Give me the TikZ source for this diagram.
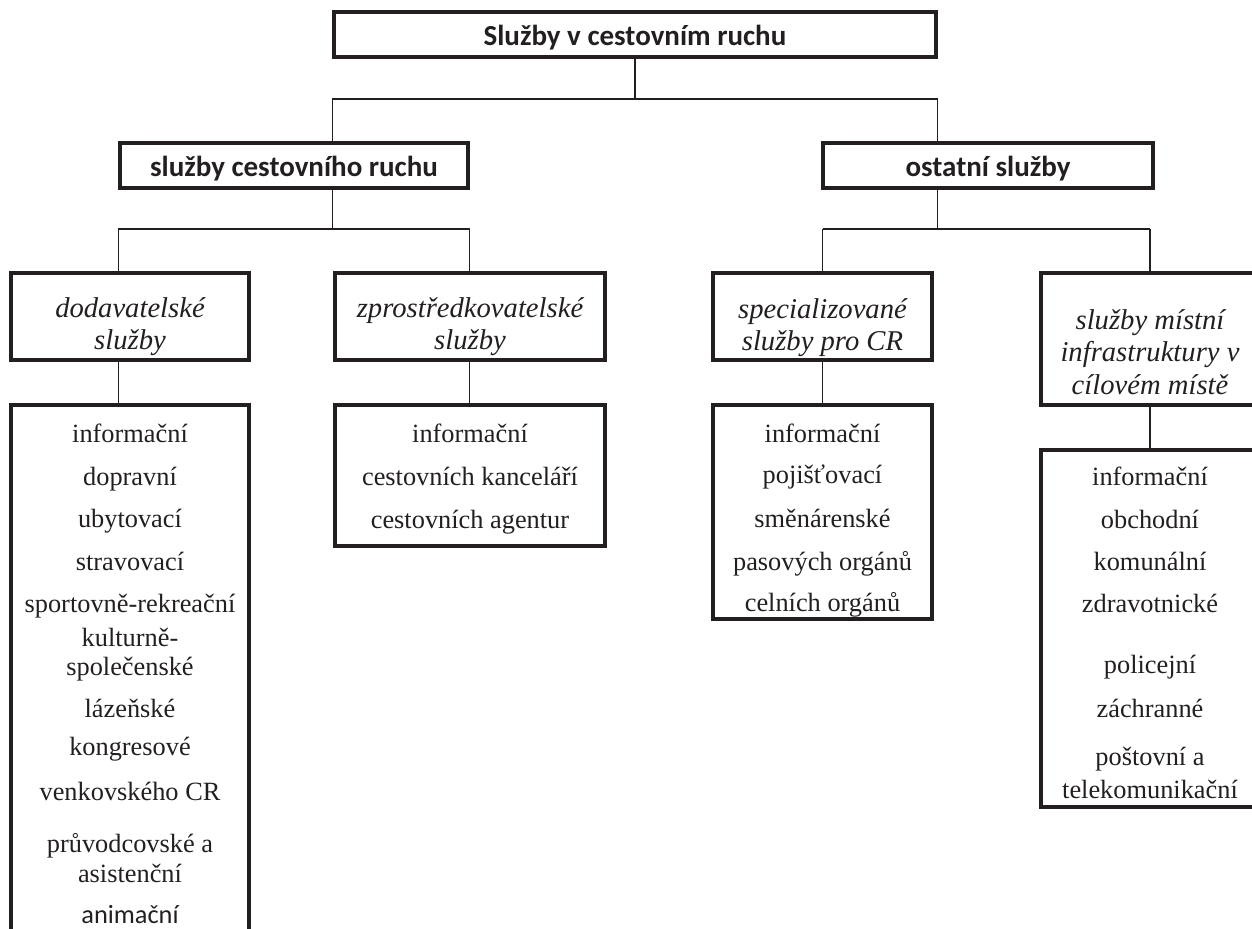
\documentclass[tikz,border=0pt]{standalone}
\usepackage{fontspec}
\setmainfont{Liberation Serif}
\newfontfamily\calibri{Carlito}
\usetikzlibrary{calc}
\definecolor{ink}{RGB}{35,31,32}

\tikzset{
  box/.style={draw=ink, line width=1.8pt, inner sep=0pt},
  conn/.style={draw=ink, line width=1pt},
  fork/.style={draw=ink, line width=1.6pt},
  head/.style={anchor=base, text=ink, font=\calibri\bfseries\fontsize{16.5}{20}\selectfont},
  kind/.style={anchor=base, text=ink, font=\itshape\fontsize{16.3}{18}\selectfont},
  item/.style={anchor=base, text=ink, font=\fontsize{15}{18}\selectfont},
}

\begin{document}
\begin{tikzpicture}[x=0.02cm,y=-0.02cm]
  \useasboundingbox (0,0) rectangle (1252,929);
  % boxes
  \node[box, minimum width=12.04cm, minimum height=0.9cm] (top) at (635,34.5) {};
  \node[box, minimum width=6.96cm, minimum height=0.9cm] (sl) at (294,165.5) {};
  \node[box, minimum width=6.6cm, minimum height=0.9cm] (sr) at (988,165.5) {};
  \node[box, minimum width=4.76cm, minimum height=1.74cm] (d1) at (130,316.5) {};
  \node[box, minimum width=5.4cm, minimum height=1.74cm] (d2) at (470,316.5) {};
  \node[box, minimum width=4.38cm, minimum height=1.74cm] (d3) at (822.5,316.5) {};
  \node[box, minimum width=4.36cm, minimum height=2.64cm] (d4) at (1150,339) {};
  \node[box, minimum width=4.76cm, minimum height=11.1cm] (l1) at (130,682.5) {};
  \node[box, minimum width=5.4cm, minimum height=2.82cm] (l2) at (470,475.5) {};
  \node[box, minimum width=4.38cm, minimum height=4.28cm] (l3) at (822.5,512) {};
  \node[box, minimum width=4.36cm, minimum height=7.14cm] (l4) at (1150,628.5) {};

  % headings
  \node[head] (top-t) at (635,46) {Služby v cestovním ruchu};
  \node[head] (sl-t) at (294,177) {služby cestovního ruchu};
  \node[head] (sr-t) at (988,177) {ostatní služby};

  % kinds of services
  \node[kind] (d1-a) at (130,318) {dodavatelské};
  \node[kind] (d1-b) at (130,350) {služby};
  \node[kind] (d2-a) at (470,318) {zprostředkovatelské};
  \node[kind] (d2-b) at (470,350) {služby};
  \node[kind] (d3-a) at (822.5,319) {specializované};
  \node[kind] (d3-b) at (822.5,351) {služby pro CR};
  \node[kind] (d4-a) at (1150,330) {služby místní};
  \node[kind] (d4-b) at (1150,362) {infrastruktury v};
  \node[kind] (d4-c) at (1150,395) {cílovém místě};

  % lists
  \foreach \y/\t [count=\i] in {442/informační, 485/dopravní, 527/ubytovací,
      570/stravovací, 612/sportovně-rekreační, 646/kulturně-, 675/společenské,
      717/lázeňské, 755/kongresové, 800/venkovského CR, 852/průvodcovské a,
      882/asistenční}
    \node[item] (a\i) at (130,\y) {\t};
  \node[item, font=\calibri\fontsize{15}{18}\selectfont] (a13) at (130,923) {animační};
  \foreach \y/\t [count=\i] in {442/informační, 485/cestovních kanceláří,
      528/cestovních agentur}
    \node[item] (b\i) at (470,\y) {\t};
  \foreach \y/\t [count=\i] in {442/informační, 483/pojišťovací, 527/směnárenské,
      570/pasových orgánů, 611/celních orgánů}
    \node[item] (c\i) at (822.5,\y) {\t};
  \foreach \y/\t [count=\i] in {485/informační, 528/obchodní, 570/komunální,
      612/zdravotnické, 673/policejní, 717/záchranné, 765/poštovní a,
      798/telekomunikační}
    \node[item] (e\i) at (1150,\y) {\t};

  % connectors
  \coordinate (f1) at (0,99);
  \coordinate (f2) at (0,229);
  \draw[conn] (top.south) -- (top.south |- f1);
  \draw[conn] (top.west |- sl.north) |- (top.east |- f1) -- (top.east |- sr.north);
  \draw[conn] (top.west |- sl.south) -- (top.west |- f2);
  \draw[conn] (top.east |- sr.south) -- (top.east |- f2);
  \draw[fork] (sl.west |- f2) -- (sl.east |- f2);
  \draw[fork] (d3.north |- f2) -- (d4.north |- f2);
  \draw[conn] (sl.west |- f2) -- (sl.west |- d1.north);
  \draw[conn] (sl.east |- f2) -- (sl.east |- d2.north);
  \draw[conn] (d3.north |- f2) -- (d3.north);
  \draw[conn] (d4.north |- f2) -- (d4.north);
  \draw[conn] (sl.west |- d1.south) -- (sl.west |- l1.north);
  \draw[conn] (sl.east |- d2.south) -- (sl.east |- l2.north);
  \draw[conn] (d3.south) -- (l3.north);
  \draw[conn] (d4.south) -- (l4.north);
\end{tikzpicture}
\end{document}
